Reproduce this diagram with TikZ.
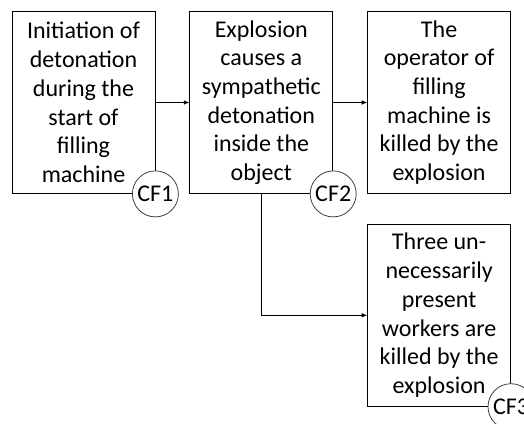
\documentclass[tikz,border=0pt]{standalone}
\usepackage{fontspec}
\setmainfont{Carlito}
\usetikzlibrary{positioning,arrows.meta}
\tikzstyle{chart} = [x = 1pt, y = -1pt, node distance = 34pt]
\tikzstyle{eventBox} = [draw=black, line width=0.8pt, fill=white, minimum width=143pt, minimum height=182pt, align=center, inner sep=2pt, font=\fontsize{24}{28.7}\selectfont]
\tikzstyle{cfMark} = [draw=black!75, line width=0.8pt, circle, fill=white, minimum size=46pt, inner sep=0pt, font=\fontsize{24}{28}\selectfont]
\tikzstyle{flowLine} = [line width=0.8pt, -{Latex[length=5.5pt, width=4.5pt]}]

\begin{document}
\begin{tikzpicture}[chart]
  \useasboundingbox (0,0) rectangle (524,423);

  % event boxes
  \node [eventBox] (init) at (83.5,102.5) {Initiation of\\detonation\\during the\\start of\\filling\\machine};
  \node [eventBox, right = of init] (explosion) {Explosion\\causes a\\sympathetic\\detonation\\inside the\\object};
  \node [eventBox, right = of explosion] (operator) {The\\operator of\\filling\\machine is\\killed by the\\explosion};
  \node [eventBox, below = 30pt of operator] (workers) {Three un-\\necessarily\\present\\workers are\\killed by the\\explosion};

  % connectors
  \draw [flowLine] (init) -- (explosion);
  \draw [flowLine] (explosion) -- (operator);
  \draw [flowLine] (explosion.south) |- (workers.west);

  % consequence marks
  \node [cfMark] (cf1) at (init.south east) {CF1};
  \node [cfMark] (cf2) at (explosion.south east) {CF2};
  \node [cfMark] (cf3) at (workers.south east) {CF3};
\end{tikzpicture}
\end{document}
